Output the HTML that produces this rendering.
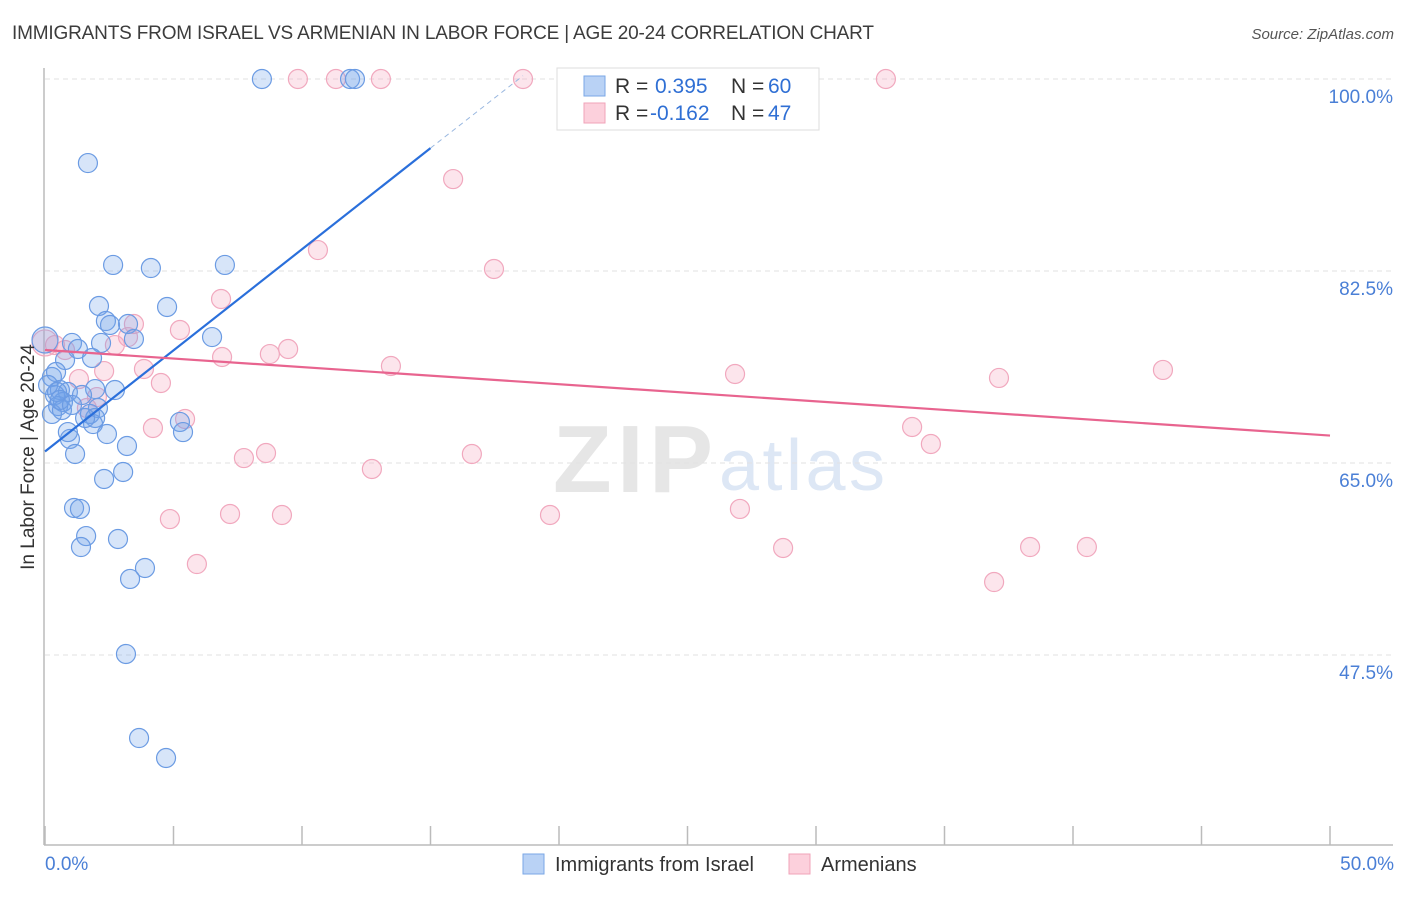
<!DOCTYPE html>
<html><head><meta charset="utf-8"><style>
body{margin:0;background:#fff;font-family:"Liberation Sans",sans-serif;}
svg text{font-family:"Liberation Sans",sans-serif;}
</style></head><body>
<svg id="chart" width="1406" height="892">
<text x="12" y="39" font-size="19" fill="#3c3c3c" textLength="862">IMMIGRANTS FROM ISRAEL VS ARMENIAN IN LABOR FORCE | AGE 20-24 CORRELATION CHART</text>
<text x="1394" y="39" font-size="15" fill="#555" text-anchor="end" font-style="italic">Source: ZipAtlas.com</text>
<text x="553" y="492" font-size="96" fill="#e6e6e6" font-family="Liberation Serif" textLength="160" font-weight="bold">ZIP</text>
<text x="719" y="490" font-size="72" fill="#dde7f5" textLength="166">atlas</text>
<g id="grid"></g>
<g id="axes"></g>
<g id="pts"></g>
<g id="lines"></g>
<text transform="translate(34,457) rotate(-90)" font-size="19" fill="#333" text-anchor="middle">In Labor Force | Age 20-24</text>
<text x="45" y="870" font-size="19" fill="#4a7fd6">0.0%</text>
<text x="1394" y="870" font-size="19" fill="#4a7fd6" text-anchor="end">50.0%</text>
<g>
<rect x="557" y="68" width="262" height="62" fill="#fff" stroke="#ddd"/>
<rect x="584" y="76" width="21" height="20" fill="#b9d2f5" stroke="#7aa7e6"/>
<rect x="584" y="103" width="21" height="20" fill="#fcd0dc" stroke="#f0a3b9"/>
<text x="615" y="93" font-size="21" fill="#333">R =</text><text x="655" y="93" font-size="21" fill="#2f6fd4">0.395</text>
<text x="731" y="93" font-size="21" fill="#333">N =</text><text x="768" y="93" font-size="21" fill="#2f6fd4">60</text>
<text x="615" y="120" font-size="21" fill="#333">R =</text><text x="650" y="120" font-size="21" fill="#2f6fd4">-0.162</text>
<text x="731" y="120" font-size="21" fill="#333">N =</text><text x="768" y="120" font-size="21" fill="#2f6fd4">47</text>
</g>
<g><rect x="523" y="854" width="21" height="20" fill="#b9d2f5" stroke="#7aa7e6"/><text x="555" y="871" font-size="20" fill="#333">Immigrants from Israel</text></g>
<g><rect x="789" y="854" width="21" height="20" fill="#fcd0dc" stroke="#f0a3b9"/><text x="821" y="871" font-size="20" fill="#333">Armenians</text></g>
</svg>
<script>
const yTicks=[100,82.5,65,47.5];
const yTickLabels=["100.0%","82.5%","65.0%","47.5%"];
const xTicks=[0,5,10,15,20,25,30,35,40,45,50];
const blueX=[8.44,11.87,12.06,1.67,2.65,4.12,7.00,2.10,4.75,2.37,3.23,6.50,3.46,1.05,2.18,1.28,1.83,0.78,0.27,0.58,0.89,1.95,2.72,0.39,1.44,0.70,0.51,2.06,0.27,1.75,1.95,5.25,1.87,0.89,5.37,2.41,0.97,3.19,1.17,3.04,2.30,1.13,1.36,1.60,2.84,1.40,3.89,3.31,3.15,3.66,4.71,0.43,0,2.53,1.56,0.66,0.12,0.47,0.58,1.05];
const blueY=[100,100,100,92.34,83.05,82.77,83.05,79.31,79.22,77.94,77.67,76.48,76.30,75.94,75.94,75.39,74.57,74.39,72.84,71.65,71.47,71.74,71.65,71.20,71.20,70.56,70.19,70.01,69.47,69.47,69.10,68.74,68.55,67.82,67.82,67.64,67.19,66.55,65.82,64.18,63.54,60.90,60.81,58.34,58.07,57.34,55.43,54.43,47.59,39.93,38.11,73.29,76.21,77.58,69.10,69.83,72.11,71.47,70.74,70.29];
const pinkX=[9.84,11.32,13.07,18.60,32.72,15.88,10.62,17.47,6.85,3.46,5.25,3.23,2.72,9.46,8.75,6.89,0.78,0.39,0,13.46,3.85,2.30,1.32,4.51,26.85,37.12,43.50,2.02,1.63,5.45,4.20,33.74,34.47,16.61,8.60,7.74,12.72,4.86,7.20,9.22,19.65,27.04,5.91,28.72,38.33,40.54,36.93];
const pinkY=[100,100,100,100,100,90.88,84.41,82.68,79.95,77.67,77.12,76.48,75.75,75.39,74.93,74.66,75.30,75.75,75.94,73.84,73.57,73.38,72.65,72.29,73.11,72.75,73.48,71.01,70.01,69.01,68.19,68.28,66.73,65.82,65.91,65.45,64.45,59.89,60.35,60.26,60.26,60.81,55.79,57.25,57.34,57.34,54.15];
const blueTrend=[[0,66.05],[15,93.7]];
const blueTrendDash=[[15,93.7],[18.6,100.3]];
const pinkTrend=[[0,75.3],[50,67.5]];
const NS="http://www.w3.org/2000/svg";
const sx=v=>45+v*25.7;
const sy=v=>79+(100-v)*10.971;
function mk(tag,attrs,parent){const e=document.createElementNS(NS,tag);for(const k in attrs)e.setAttribute(k,attrs[k]);document.getElementById(parent).appendChild(e);return e;}
yTicks.forEach((t,i)=>{
 const l=mk('line',{x1:45,x2:1393,y1:sy(t),y2:sy(t),stroke:'#e2e2e2','stroke-dasharray':'5,4'},'grid');
 
 
 const tx=mk('text',{x:1393,y:sy(t)+24,'font-size':19,fill:'#4a7fd6','text-anchor':'end'},'grid');
 tx.textContent=yTickLabels[i];
 
 
});
const ya=mk('line',{x1:44,x2:44,y1:68,y2:845,stroke:'#bbb','stroke-width':1.5},'axes');


const xa=mk('line',{x1:44,x2:1393,y1:845,y2:845,stroke:'#bbb','stroke-width':1.5},'axes');


xTicks.forEach(t=>{
 const l=mk('line',{x1:sx(t),x2:sx(t),y1:826,y2:845,stroke:'#bbb','stroke-width':1.5},'axes');
 
 
});
function dots(X,Y,fill,stroke,name){X.forEach((x,i)=>{
 const c=mk('circle',{cx:sx(x),cy:sy(Y[i]),r:(x===0?13:9.5),fill:fill,stroke:stroke,'stroke-width':1.2},'pts');
 
 
});}
dots(pinkX,pinkY,'rgba(244,160,188,0.28)','#f1a8be','armenian-point');
dots(blueX,blueY,'rgba(110,160,235,0.28)','#6b9be3','israel-point');
function line(p,stroke,w,dash,name){
 const l=mk('line',{x1:sx(p[0][0]),y1:sy(p[0][1]),x2:sx(p[1][0]),y2:sy(p[1][1]),stroke:stroke,'stroke-width':w},'lines');
 if(dash)l.setAttribute('stroke-dasharray',dash);
 
 
}
line(blueTrend,'#2a6fdb',2.2,null,'israel-trend-line');
line(blueTrendDash,'#9ab8e0',1,'5,4','israel-trend-extension');
line(pinkTrend,'#e8648f',2.2,null,'armenian-trend-line');
</script>
</body></html>
